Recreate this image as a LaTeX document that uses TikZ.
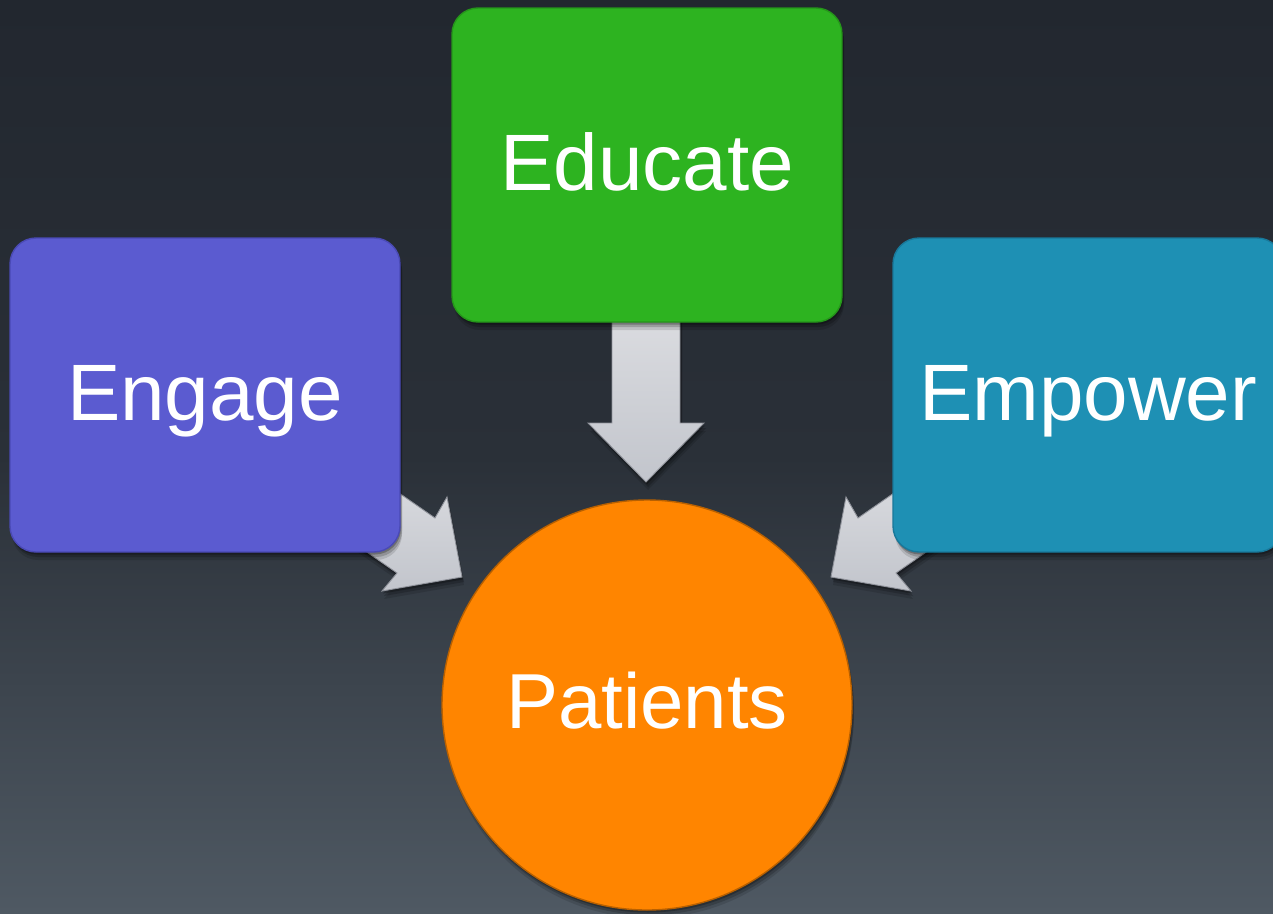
\documentclass[tikz,border=0pt]{standalone}
\usepackage{fontspec}
\setmainfont{Liberation Sans}
\usetikzlibrary{shadows}
\definecolor{bgTop}{HTML}{22272F}
\definecolor{bgMid}{HTML}{2A3038}
\definecolor{bgBot}{HTML}{4F5963}
\definecolor{engFill}{HTML}{5B5BD0}
\definecolor{engLine}{HTML}{4A4AB5}
\definecolor{eduFill}{HTML}{2DB320}
\definecolor{eduLine}{HTML}{25951A}
\definecolor{empFill}{HTML}{1E90B4}
\definecolor{empLine}{HTML}{18789A}
\definecolor{patFill}{HTML}{FF8500}
\definecolor{patLine}{HTML}{B86000}
\definecolor{arrTop}{HTML}{DDDEE2}
\definecolor{arrBot}{HTML}{C2C5CC}
\definecolor{arrLine}{HTML}{8E9199}
\pgfdeclarelayer{bglayer}
\pgfdeclarelayer{arrlayer}
\pgfsetlayers{bglayer,arrlayer,main}
\begin{document}
\begin{tikzpicture}[x=1pt,y=-1pt,
  softshadow/.style={
    general shadow={fill=black, opacity=0.12, shadow xshift=2pt, shadow yshift=-8pt},
    general shadow={fill=black, opacity=0.18, shadow xshift=2pt, shadow yshift=-5pt},
    general shadow={fill=black, opacity=0.25, shadow xshift=1pt, shadow yshift=-2.5pt}},
  box/.style={rectangle, rounded corners=26pt, minimum width=390pt, minimum height=314pt,
    line width=1.4pt, softshadow},
  circ/.style={circle, minimum size=410pt, inner sep=0pt, fill=patFill, draw=patLine,
    line width=1.4pt, softshadow},
  blockarrow/.style={top color=arrTop, bottom color=arrBot, draw=arrLine, line width=0.9pt,
    line join=miter, softshadow},
  lbl/.style={text=white, inner sep=0pt, font=\fontsize{80}{96}\selectfont}]
\useasboundingbox (0,0) rectangle (1273,913);
\clip (0,0) rectangle (1273,913);
\begin{pgfonlayer}{bglayer}
  \shade[top color=bgTop, bottom color=bgMid] (0,0) rectangle (1273,457);
  \shade[top color=bgMid, bottom color=bgBot] (0,456) rectangle (1273,913);
\end{pgfonlayer}

\node[box, fill=engFill, draw=engLine] (eng) at (205,395) {};
\node[box, fill=eduFill, draw=eduLine] (edu) at (647,165) {};
\node[box, fill=empFill, draw=empLine] (emp) at (1088,395) {};
\node[circ] (pat) at (647,705) {};

\node[lbl, anchor=base] (engT) at (205,420) {Engage};
\node[lbl, anchor=base] (eduT) at (647,190) {Educate};
\node[lbl, anchor=base] (empT) at (1088,420) {Empower};
\node[lbl, anchor=base, font=\fontsize{78}{94}\selectfont] (patT) at (647,728) {Patients};

\begin{pgfonlayer}{arrlayer}
  % Educate -> Patients
  \shade[blockarrow] (612,300) -- (612,423) -- (588,423) -- (646,482) -- (704,423)
    -- (680,423) -- (680,300) -- cycle;
  % Engage -> Patients
  \shade[blockarrow] (353,461) -- (435,518) -- (447,497) -- (462,577) -- (382,591)
    -- (397,573) -- (315,516) -- cycle;
  % Empower -> Patients
  \shade[blockarrow] (940,461) -- (858,518) -- (846,497) -- (831,577) -- (911,591)
    -- (896,573) -- (978,516) -- cycle;
\end{pgfonlayer}
\end{tikzpicture}
\end{document}
